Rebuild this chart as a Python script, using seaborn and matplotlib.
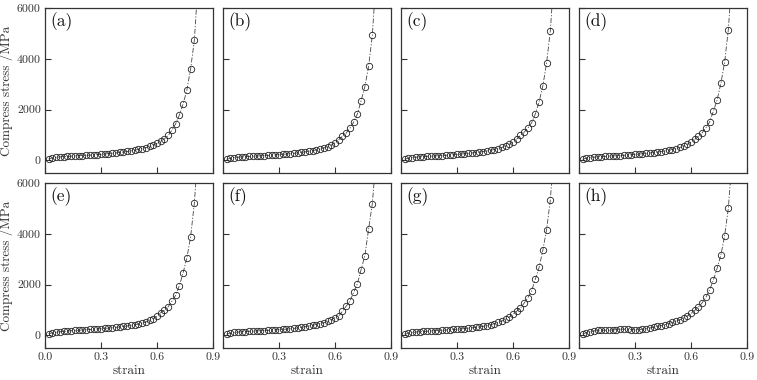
import matplotlib
matplotlib.use("Agg")
import matplotlib.pyplot as plt
import seaborn as sns
import pandas as pd

strain = [0.02, 0.04, 0.06, 0.08, 0.10, 0.12, 0.14, 0.16, 0.18, 0.20,
          0.22, 0.24, 0.26, 0.28, 0.30, 0.32, 0.34, 0.36, 0.38, 0.40,
          0.42, 0.44, 0.46, 0.48, 0.50, 0.52, 0.54, 0.56, 0.58, 0.60,
          0.62, 0.64, 0.66, 0.68, 0.70, 0.72, 0.74, 0.76, 0.78, 0.80]

stress_a = [50, 95, 118, 134, 146, 156, 165, 173, 181, 189,
            197, 206, 216, 226, 237, 249, 262, 276, 291, 308,
            327, 349, 373, 400, 430, 462, 500, 545, 600, 670,
            750, 850, 980, 1180, 1440, 1790, 2220, 2770, 3600, 4730]
stress_b = [40, 85, 107, 122, 134, 144, 153, 161, 169, 177,
            185, 193, 202, 212, 223, 235, 248, 262, 277, 293,
            311, 331, 354, 380, 410, 445, 485, 535, 600, 690,
            810, 950, 1070, 1270, 1500, 1830, 2350, 2900, 3700, 4930]
stress_c = [40, 88, 110, 125, 137, 147, 156, 164, 172, 180,
            189, 198, 208, 219, 231, 244, 258, 273, 289, 306,
            325, 345, 368, 395, 425, 460, 505, 560, 630, 720,
            835, 980, 1110, 1270, 1480, 1830, 2310, 2940, 3840, 5100]
stress_d = [40, 88, 110, 125, 137, 147, 156, 164, 172, 180,
            189, 198, 208, 219, 231, 244, 258, 273, 289, 306,
            325, 345, 368, 395, 425, 460, 505, 560, 630, 720,
            825, 940, 1085, 1280, 1520, 1935, 2380, 3030, 3855, 5150]
stress_e = [60, 100, 122, 140, 155, 168, 180, 190, 200, 210,
            220, 230, 240, 251, 262, 273, 285, 298, 313, 330,
            348, 368, 390, 415, 445, 480, 525, 585, 660, 760,
            890, 980, 1125, 1345, 1580, 1960, 2460, 3050, 3870, 5200]
stress_f = [40, 90, 112, 128, 140, 150, 158, 166, 173, 180,
            187, 195, 203, 212, 222, 233, 245, 258, 274, 292,
            313, 338, 365, 395, 425, 455, 495, 545, 610, 700,
            760, 950, 1150, 1345, 1700, 2030, 2590, 3140, 4180, 5190]
stress_g = [40, 90, 113, 129, 141, 151, 161, 170, 179, 188,
            198, 208, 218, 229, 240, 252, 265, 278, 293, 310,
            330, 355, 385, 420, 460, 505, 560, 630, 720, 830,
            950, 1070, 1270, 1480, 1760, 2220, 2680, 3360, 4160, 5330]
stress_h = [50, 110, 140, 170, 195, 205, 200, 200, 210, 225,
            240, 245, 235, 220, 215, 225, 240, 262, 290, 320,
            350, 385, 420, 460, 505, 555, 610, 680, 760, 860,
            980, 1110, 1280, 1500, 1800, 2180, 2640, 3160, 3920, 5000]

# the fitted dashed line continues past the last measured point
tail_strain = 0.82
tail_stress = [7000, 7200, 7300, 7300, 7300, 7000, 7400, 7000]

panel_labels = ["(a)", "(b)", "(c)", "(d)", "(e)", "(f)", "(g)", "(h)"]
series = [stress_a, stress_b, stress_c, stress_d,
          stress_e, stress_f, stress_g, stress_h]

x_ticks = [0.0, 0.3, 0.6, 0.9]
x_ticklabels_first = ["0.0", "0.3", "0.6", "0.9"]
x_ticklabels_other = ["", "0.3", "0.6", "0.9"]
y_ticks = [0, 2000, 4000, 6000]
y_ticklabels = ["0", "2000", "4000", "6000"]

sns.set_style("ticks")
plt.rcParams.update({
    "font.family": "serif",
    "font.serif": ["cmr10"],
    "mathtext.fontset": "cm",
    "axes.formatter.use_mathtext": True,
    "xtick.direction": "in",
    "ytick.direction": "in",
    "axes.edgecolor": "#333333",
    "axes.linewidth": 0.9,
    "xtick.major.size": 4,
    "ytick.major.size": 4,
    "xtick.color": "#333333",
    "ytick.color": "#333333",
    "font.size": 10,
})

fig, axes = plt.subplots(2, 4, figsize=(7.57, 3.80), dpi=100)
fig.subplots_adjust(left=45 / 757, right=747 / 757, top=1 - 8 / 380,
                    bottom=1 - 348 / 380, wspace=10 / 168, hspace=10 / 165)

for i, ax in enumerate(axes.flat):
    row, col = divmod(i, 4)
    vals = series[i]
    line_df = pd.DataFrame({"strain": strain + [tail_strain],
                            "stress": vals + [tail_stress[i]]})
    pts_df = pd.DataFrame({"strain": strain, "stress": vals})
    sns.lineplot(data=line_df, x="strain", y="stress", ax=ax,
                 color="#444444", linewidth=0.6,
                 linestyle=(0, (6, 2, 1.5, 2)))
    ax.plot(pts_df["strain"], pts_df["stress"], linestyle="none",
            marker="o", markersize=4.6, markerfacecolor="none",
            markeredgecolor="#222222", markeredgewidth=0.6)
    ax.set_xlim(0.0, 0.9)
    ax.set_ylim(-500, 6000)
    ax.set_xticks(x_ticks)
    ax.set_yticks(y_ticks)
    if row == 1:
        ax.set_xticklabels(x_ticklabels_first if col == 0 else x_ticklabels_other)
        ax.set_xlabel("strain", fontsize=9.5, color="#333333", labelpad=2)
    else:
        ax.set_xticklabels([])
        ax.set_xlabel("")
    if col == 0:
        ax.set_yticklabels(y_ticklabels)
        ax.set_ylabel("Compress stress /MPa", fontsize=9.5, color="#333333")
        ax.yaxis.set_label_coords(-0.19, 0.5)
    else:
        ax.set_yticklabels([])
        ax.set_ylabel("")
    ax.text(0.03, 0.975, panel_labels[i], transform=ax.transAxes,
            ha="left", va="top", fontsize=12.5, color="#111111")
    ax.tick_params(labelsize=8.5, labelcolor="#333333", width=0.8, pad=3)

fig.savefig("out.png", dpi=100)
